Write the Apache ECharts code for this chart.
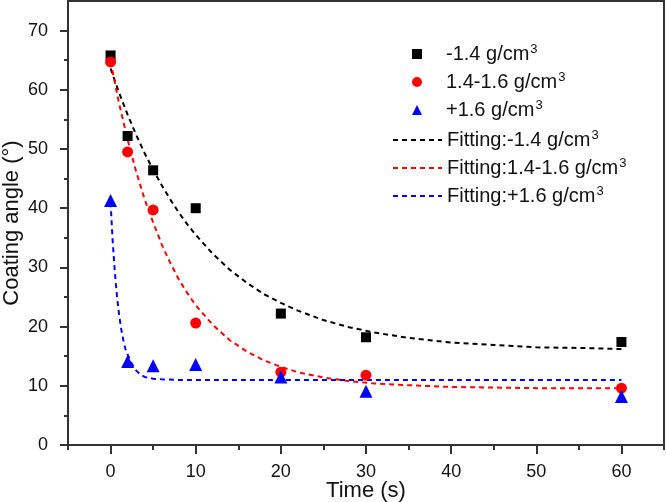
<!DOCTYPE html>
<html>
<head>
<meta charset="utf-8">
<script src="https://cdn.jsdelivr.net/npm/echarts@6/dist/echarts.min.js"></script>
<style>html,body{margin:0;padding:0;background:#fff;}#c{width:666px;height:502px;}</style>
</head>
<body>
<div id="c"></div>
<script>
// ---- data ----
var times = [0, 2, 5, 10, 20, 30, 60];
var lowDensity = [65.8, 52.2, 46.4, 40.0, 22.2, 18.2, 17.4];
var midDensity = [64.7, 49.5, 39.7, 20.6, 12.3, 11.8, 9.6];
var highDensity = [41.3, 14.1, 13.4, 13.6, 11.5, 9.1, 8.2];

var fitLowT = [0,1,2,3,4,5,6,7,8,9,10,12,14,16,18,20,22,25,28,31,35,40,45,50,55,60];
var fitLowY = [63.6,59.5,55.8,52.4,49.3,46.5,43.9,41.5,39.3,37.3,35.5,32.3,29.6,27.4,25.5,24.0,22.7,21.1,19.9,19.0,18.1,17.3,16.9,16.5,16.4,16.2];
var fitMidT = [0,1,2,3,4,5,6,7,8,9,10,12,14,16,18,20,22,25,28,31,35,40,45,50,55,60];
var fitMidY = [64.8,57.7,51.6,46.2,41.5,37.6,33.9,30.8,28.0,25.7,23.6,20.3,17.7,15.8,14.3,13.2,12.3,11.4,10.8,10.4,10.1,9.8,9.7,9.6,9.6,9.6];
var fitHighT = [0,0.25,0.5,0.75,1,1.25,1.5,1.75,2,2.5,3,3.5,4,5,6,8,60];
var fitHighY = [41.0,34.4,29.2,25.2,22.0,19.6,17.7,16.2,15.3,13.7,12.6,11.9,11.5,11.2,11.1,11.0,11.0];

var xMajor = [0, 10, 20, 30, 40, 50, 60];
var xMinor = [-5, 5, 15, 25, 35, 45, 55, 65];
var yMajor = [0, 10, 20, 30, 40, 50, 60, 70];
var yMinor = [5, 15, 25, 35, 45, 55, 65];

var pointNames = ['-1.4 g/cm3', '1.4-1.6 g/cm3', '+1.6 g/cm3'];
var fitNames = ['Fitting:-1.4 g/cm3', 'Fitting:1.4-1.6 g/cm3', 'Fitting:+1.6 g/cm3'];

function pairs(xs, ys) { return xs.map(function (x, i) { return [x, ys[i]]; }); }

var FONT = 'Liberation Sans, Arial, sans-serif';
var AX = '#333';
var TXT = '#111';

function legendText(padLeft) {
  return {
    color: TXT, fontFamily: FONT, fontSize: 20,
    rich: {
      t: { fontFamily: FONT, fontSize: 20, color: TXT, lineHeight: 22, padding: [0, 0, 0, padLeft] },
      s: { fontFamily: FONT, fontSize: 13, color: TXT, verticalAlign: 'top', lineHeight: 22, padding: [0, 0, 9, 1] }
    }
  };
}
function supFmt(n) { return '{t|' + n.slice(0, -1) + '}{s|3}'; }

var chart = echarts.init(document.getElementById('c'), null, { renderer: 'canvas' });

var baseX = { type: 'value', min: -5, max: 65, gridIndex: 0, splitLine: { show: false } };
var baseY = { type: 'value', min: 0, max: 75, gridIndex: 0, splitLine: { show: false } };

chart.setOption({
  animation: false,
  backgroundColor: '#fff',
  grid: { left: 68, right: 2, top: 1, bottom: 57, containLabel: false, outerBoundsMode: 'none' },
  legend: [
    {
      orient: 'vertical', left: 407, top: 38,
      itemWidth: 10, itemHeight: 10, itemGap: 6,
      data: pointNames,
      formatter: supFmt,
      textStyle: legendText(19)
    },
    {
      orient: 'vertical', left: 387, top: 124,
      itemWidth: 49, itemHeight: 10, itemGap: 6,
      itemStyle: { opacity: 0 },
      data: fitNames,
      formatter: supFmt,
      textStyle: legendText(0)
    }
  ],
  xAxis: [
    Object.assign({}, baseX, {
      position: 'bottom',
      name: 'Time (s)', nameLocation: 'middle', nameGap: 35, nameMoveOverlap: false,
      nameTextStyle: { fontFamily: FONT, fontSize: 22, color: TXT },
      axisLine: { show: true, onZero: false, lineStyle: { color: AX, width: 2 } },
      axisTick: { show: true, customValues: xMajor, length: 9, lineStyle: { color: AX, width: 2 } },
      axisLabel: { show: true, customValues: xMajor, margin: 18, fontFamily: FONT, fontSize: 18, color: TXT }
    }),
    Object.assign({}, baseX, {
      position: 'bottom',
      axisLine: { show: false, onZero: false },
      axisTick: { show: true, customValues: xMinor, length: 5, lineStyle: { color: AX, width: 2 } },
      axisLabel: { show: false }
    }),
    Object.assign({}, baseX, {
      position: 'top',
      axisLine: { show: true, onZero: false, lineStyle: { color: AX, width: 2 } },
      axisTick: { show: false }, axisLabel: { show: false }
    })
  ],
  yAxis: [
    Object.assign({}, baseY, {
      position: 'left',
      name: 'Coating angle (°)', nameLocation: 'middle', nameGap: 45, nameMoveOverlap: false,
      nameTextStyle: { fontFamily: FONT, fontSize: 22, color: TXT },
      axisLine: { show: true, onZero: false, lineStyle: { color: AX, width: 2 } },
      axisTick: { show: true, customValues: yMajor, length: 8, lineStyle: { color: AX, width: 2 } },
      axisLabel: { show: true, customValues: yMajor, margin: 20, fontFamily: FONT, fontSize: 18, color: TXT }
    }),
    Object.assign({}, baseY, {
      position: 'left',
      axisLine: { show: false, onZero: false },
      axisTick: { show: true, customValues: yMinor, length: 4, lineStyle: { color: AX, width: 2 } },
      axisLabel: { show: false }
    }),
    Object.assign({}, baseY, {
      position: 'right',
      axisLine: { show: true, onZero: false, lineStyle: { color: AX, width: 2 } },
      axisTick: { show: false }, axisLabel: { show: false }
    })
  ],
  series: [
    { name: pointNames[0], type: 'scatter', symbol: 'rect', symbolSize: 10, itemStyle: { color: '#000', opacity: 1 }, data: pairs(times, lowDensity), z: 5 },
    { name: pointNames[1], type: 'scatter', symbol: 'circle', symbolSize: 11, itemStyle: { color: '#ff0000', opacity: 1 }, data: pairs(times, midDensity), z: 5 },
    { name: pointNames[2], type: 'scatter', symbol: 'triangle', symbolSize: 13, itemStyle: { color: '#0000ff', opacity: 1 }, data: pairs(times, highDensity), z: 5 },
    { name: fitNames[0], type: 'line', showSymbol: false, symbol: 'none', lineStyle: { color: '#000', width: 2, type: [5, 4] }, itemStyle: { color: '#000' }, data: pairs(fitLowT, fitLowY), z: 3 },
    { name: fitNames[1], type: 'line', showSymbol: false, symbol: 'none', lineStyle: { color: '#ff0000', width: 2, type: [5, 4] }, itemStyle: { color: '#ff0000' }, data: pairs(fitMidT, fitMidY), z: 3 },
    { name: fitNames[2], type: 'line', showSymbol: false, symbol: 'none', lineStyle: { color: '#0000ff', width: 2, type: [5, 4] }, itemStyle: { color: '#0000ff' }, data: pairs(fitHighT, fitHighY), z: 3 }
  ]
});
</script>
</body>
</html>
